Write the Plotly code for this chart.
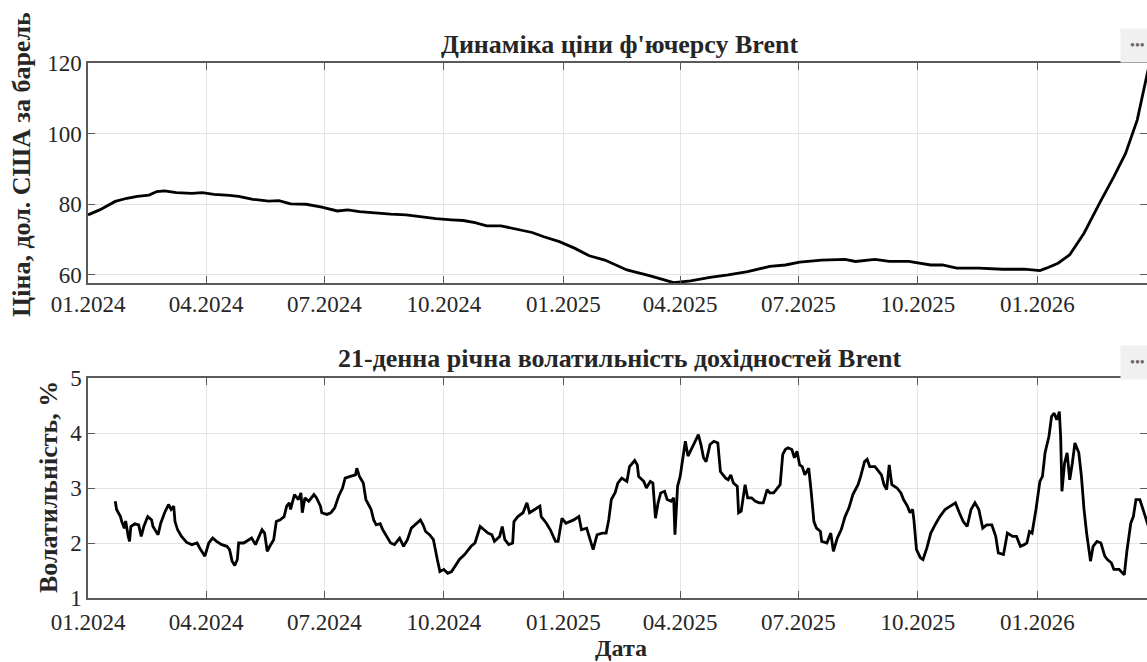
import pandas as pd
import plotly.graph_objects as go

START = pd.Timestamp("2024-01-01")
RANGE_END = "2026-03-26 12:00"

# Brent futures price (days since 2024-01-01, USD per barrel)
price_day = [0, 9, 21, 30, 38, 47, 53, 59, 68, 80, 88, 97, 109, 116, 127, 139, 147, 156, 168, 180,
             192, 200, 209, 221, 233, 245, 256, 268, 280, 289, 298, 307, 318, 330, 342, 351, 363, 375,
             386, 398, 415, 433, 451, 464, 479, 493, 508, 525, 537, 548, 565, 583, 591, 606, 617, 632,
             649, 658, 669, 686, 704, 721, 733, 738, 747, 756, 767, 779, 790, 799, 808, 816, 822]
price_usd = [77.0, 78.4, 80.8, 81.7, 82.2, 82.6, 83.6, 83.8, 83.3, 83.1, 83.3, 82.8, 82.5, 82.2, 81.4,
             80.9, 81.0, 80.1, 80.0, 79.2, 78.1, 78.4, 77.9, 77.5, 77.2, 77.0, 76.5, 75.9, 75.6, 75.4,
             74.8, 73.9, 73.9, 72.9, 72.0, 70.8, 69.4, 67.5, 65.4, 64.2, 61.4, 59.7, 57.8, 58.3, 59.3,
             60.0, 60.9, 62.4, 62.8, 63.6, 64.2, 64.4, 63.8, 64.4, 63.8, 63.8, 62.8, 62.8, 61.9, 61.9,
             61.6, 61.6, 61.2, 61.9, 63.3, 65.7, 71.8, 80.3, 87.8, 94.4, 103.9, 117.5, 126.0]

# 21-day annualised volatility of Brent returns (days since 2024-01-01, %)
vol_day = [21, 22, 25, 26, 28, 29, 31, 32, 33, 36, 39, 41, 43, 46, 49, 50, 54, 56, 59, 62, 64, 66, 67,
           69, 72, 76, 80, 84, 86, 90, 93, 96, 99, 103, 107, 109, 111, 113, 115, 116, 120, 124, 126,
           129, 132, 134, 136, 138, 140, 143, 145, 148, 151, 153, 155, 156, 159, 162, 164, 165, 167,
           170, 174, 176, 179, 180, 184, 187, 190, 193, 196, 198, 202, 206, 207, 209, 212, 214, 216,
           218, 220, 222, 225, 227, 230, 233, 236, 240, 243, 246, 249, 252, 256, 258, 260, 263, 266,
           269, 271, 274, 277, 280, 283, 286, 290, 293, 295, 298, 301, 302, 305, 308, 311, 313, 317,
           319, 321, 324, 327, 328, 331, 335, 338, 340, 344, 348, 349, 353, 356, 360, 362, 365, 368,
           371, 374, 378, 380, 384, 386, 389, 392, 396, 399, 401, 403, 406, 408, 411, 415, 417, 421,
           423, 424, 428, 430, 433, 435, 437, 439, 441, 444, 446, 449, 451, 452, 454, 456, 458, 460,
           462, 464, 467, 470, 472, 474, 476, 479, 482, 485, 487, 491, 493, 495, 497, 500, 501, 503,
           506, 508, 511, 514, 517, 520, 523, 525, 528, 530, 533, 535, 537, 539, 542, 544, 546, 548,
           550, 552, 555, 557, 559, 561, 564, 565, 569, 572, 574, 577, 580, 583, 586, 589, 593, 595,
           598, 600, 602, 606, 609, 611, 613, 615, 617, 619, 623, 626, 628, 631, 633, 635, 636, 638,
           641, 643, 646, 649, 653, 656, 660, 664, 668, 671, 674, 677, 680, 683, 686, 689, 692, 696,
           699, 701, 705, 708, 712, 715, 718, 721, 723, 725, 727, 730, 733, 735, 737, 740, 742, 744,
           746, 748, 749, 750, 752, 754, 756, 758, 760, 763, 765, 767, 769, 772, 774, 777, 780, 783,
           785, 788, 790, 794, 798, 800, 803, 805, 807, 810, 812, 815, 818]
vol_pct = [2.76, 2.61, 2.48, 2.39, 2.27, 2.40, 2.12, 2.03, 2.30, 2.35, 2.33, 2.12, 2.30, 2.48, 2.42,
           2.30, 2.15, 2.36, 2.55, 2.70, 2.61, 2.67, 2.39, 2.24, 2.12, 2.01, 1.97, 2.00, 1.91, 1.76,
           2.00, 2.09, 2.03, 1.97, 1.94, 1.88, 1.67, 1.59, 1.70, 2.00, 2.00, 2.06, 2.09, 1.97, 2.12,
           2.24, 2.18, 1.85, 1.94, 2.06, 2.39, 2.42, 2.48, 2.67, 2.73, 2.61, 2.88, 2.79, 2.91, 2.55,
           2.82, 2.76, 2.88, 2.82, 2.67, 2.55, 2.52, 2.55, 2.64, 2.85, 3.00, 3.18, 3.21, 3.24, 3.36,
           3.21, 3.09, 2.79, 2.70, 2.61, 2.42, 2.33, 2.35, 2.24, 2.12, 2.00, 1.97, 2.09, 1.94, 2.06,
           2.27, 2.33, 2.42, 2.33, 2.21, 2.15, 2.06, 1.70, 1.48, 1.52, 1.45, 1.48, 1.58, 1.70, 1.79,
           1.88, 1.94, 2.00, 2.24, 2.30, 2.24, 2.18, 2.15, 2.03, 2.12, 2.30, 2.06, 1.97, 2.00, 2.39,
           2.48, 2.55, 2.73, 2.55, 2.61, 2.67, 2.48, 2.36, 2.24, 2.03, 2.03, 2.45, 2.36, 2.39, 2.42,
           2.48, 2.24, 2.27, 2.12, 1.88, 2.15, 2.18, 2.18, 2.42, 2.79, 2.92, 3.09, 3.18, 3.12, 3.39,
           3.50, 3.42, 3.21, 3.12, 3.00, 3.12, 3.09, 2.45, 2.73, 2.91, 2.94, 2.79, 2.76, 2.82, 2.15,
           3.03, 3.21, 3.52, 3.85, 3.58, 3.67, 3.82, 3.97, 3.79, 3.55, 3.48, 3.79, 3.85, 3.82, 3.30,
           3.18, 3.15, 3.24, 3.09, 3.03, 2.55, 2.58, 3.06, 2.82, 2.82, 2.76, 2.73, 2.73, 2.97, 2.91,
           2.91, 2.97, 3.06, 3.61, 3.70, 3.73, 3.70, 3.55, 3.67, 3.42, 3.39, 3.24, 3.36, 2.91, 2.39,
           2.27, 2.21, 2.03, 2.00, 2.18, 1.85, 2.09, 2.24, 2.48, 2.64, 2.88, 3.06, 3.21, 3.48, 3.52,
           3.39, 3.39, 3.30, 3.24, 3.06, 2.97, 3.42, 3.06, 3.00, 2.91, 2.79, 2.67, 2.55, 2.61, 2.42,
           1.88, 1.73, 1.70, 1.91, 2.18, 2.36, 2.48, 2.61, 2.67, 2.73, 2.55, 2.39, 2.30, 2.61, 2.73,
           2.61, 2.27, 2.33, 2.33, 2.12, 1.82, 1.79, 2.18, 2.12, 2.12, 1.94, 1.97, 2.00, 2.21, 2.18,
           2.61, 3.12, 3.21, 3.64, 3.94, 4.30, 4.36, 4.24, 4.39, 3.94, 2.94, 3.45, 3.64, 3.15, 3.45,
           3.82, 3.64, 3.21, 2.61, 2.18, 1.67, 1.94, 2.03, 2.00, 1.76, 1.70, 1.64, 1.52, 1.52, 1.42,
           1.85, 2.36, 2.48, 2.79, 2.79, 2.64, 2.42, 2.20]

tick_dates = ["2024-01-01", "2024-04-01", "2024-07-01", "2024-10-01", "2025-01-01",
              "2025-04-01", "2025-07-01", "2025-10-01", "2026-01-01"]
tick_labels = ["01.2024", "04.2024", "07.2024", "10.2024", "01.2025",
               "04.2025", "07.2025", "10.2025", "01.2026"]

price_x = START + pd.to_timedelta(price_day, unit="D")
vol_x = START + pd.to_timedelta(vol_day, unit="D")

W, H = 1147, 662
FONT = "Liberation Serif"
AX = "#5a5a5a"
GRID = "#e4e4e4"
TXT = "#262626"

fig = go.Figure()
fig.add_trace(go.Scatter(x=price_x, y=price_usd, mode="lines",
                         line=dict(color="black", width=2.8), xaxis="x", yaxis="y"))
fig.add_trace(go.Scatter(x=vol_x, y=vol_pct, mode="lines",
                         line=dict(color="black", width=2.8), xaxis="x2", yaxis="y2"))

xcommon = dict(type="date", range=[str(START.date()), RANGE_END], tickvals=tick_dates,
               ticktext=tick_labels, ticks="inside", ticklen=7, tickwidth=1, tickcolor=AX,
               showline=True, linecolor=AX, linewidth=1.5, mirror="ticks", automargin=False,
               showgrid=True, gridcolor=GRID, gridwidth=1, zeroline=False,
               tickfont=dict(family=FONT, size=23, color=TXT), domain=[88 / W, 1])
ycommon = dict(ticks="inside", ticklen=7, tickwidth=1, tickcolor=AX, automargin=False,
               showline=True, linecolor=AX, linewidth=1.5, mirror="ticks",
               showgrid=True, gridcolor=GRID, gridwidth=1, zeroline=False,
               tickfont=dict(family=FONT, size=23, color=TXT))

fig.update_layout(
    width=W, height=H, margin=dict(l=0, r=0, t=0, b=0),
    paper_bgcolor="white", plot_bgcolor="white", showlegend=False,
    xaxis=dict(anchor="y", **xcommon),
    xaxis2=dict(anchor="y2", ticklabelstandoff=3, **xcommon),
    yaxis=dict(anchor="x", domain=[1 - 283 / H, 1 - 63 / H], range=[57.7, 120],
               tickvals=[60, 80, 100, 120], **ycommon),
    yaxis2=dict(anchor="x2", domain=[1 - 598 / H, 1 - 378 / H], range=[1, 5],
                tickvals=[1, 2, 3, 4, 5], **ycommon),
)

def ann(text, px, py, size, angle=0, **kw):
    fig.add_annotation(text=text, x=px / W, y=1 - py / H, xref="paper", yref="paper",
                       showarrow=False, textangle=angle, xanchor=kw.pop("xanchor", "center"),
                       yanchor="middle", font=dict(family=FONT, size=size, color=kw.pop("color", TXT)),
                       **kw)

ann("<b>Динаміка ціни ф'ючерсу Brent</b>", 619, 44, 26)
ann("<b>21-денна річна волатильність дохідностей Brent</b>", 620, 358, 26)
ann("<b>Ціна, дол. США за барель</b>", 21, 165, 26, angle=-90)
ann("<b>Волатильність, %</b>", 48, 487, 26, angle=-90)
ann("<b>Дата</b>", 621, 648, 24)
ann("•••", 1120, 45, 14, xanchor="left", color="#666666", bgcolor="#f0f0f0", borderpad=9)
ann("•••", 1120, 362, 14, xanchor="left", color="#666666", bgcolor="#f0f0f0", borderpad=9)

fig.write_html("out.html")
